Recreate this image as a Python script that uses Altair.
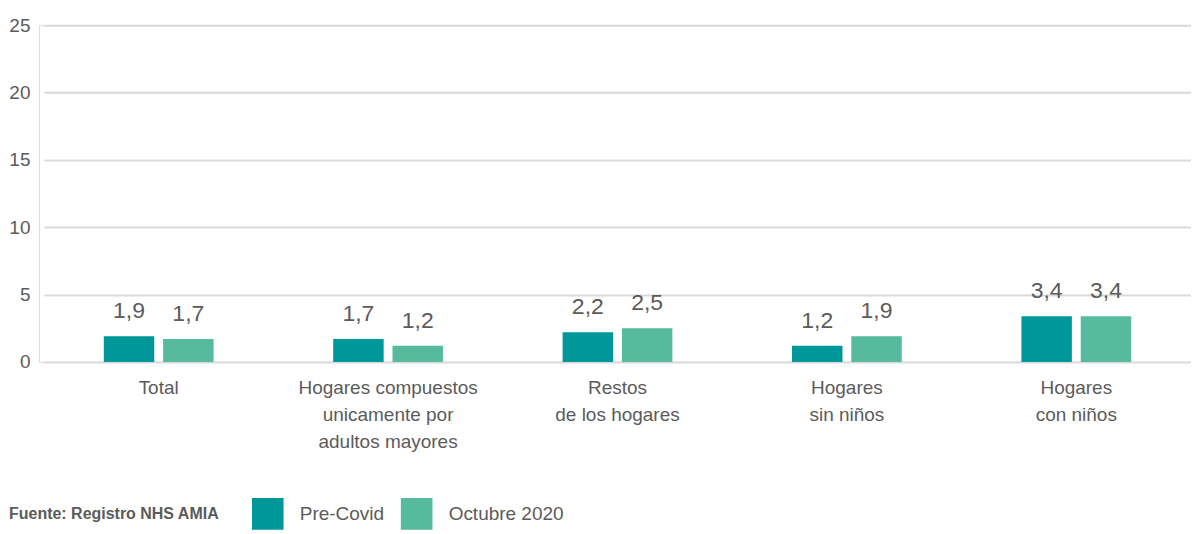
import altair as alt
import pandas as pd

categories = [
    "Total",
    "Hogares compuestos\nunicamente por\nadultos mayores",
    "Restos\nde los hogares",
    "Hogares\nsin niños",
    "Hogares\ncon niños",
]
series = ["Pre-Covid", "Octubre 2020"]
pre_covid = [1.9, 1.7, 2.2, 1.2, 3.4]
octubre_2020 = [1.7, 1.2, 2.5, 1.9, 3.4]
y_ticks = [0, 5, 10, 15, 20, 25]
colors = ["#00979a", "#55bb9c"]
source_note = "Fuente: Registro NHS AMIA"

rows = []
for c, a, b in zip(categories, pre_covid, octubre_2020):
    rows.append({"cat": c, "serie": series[0], "v": a})
    rows.append({"cat": c, "serie": series[1], "v": b})
df = pd.DataFrame(rows)

FONT = "Liberation Sans, Arial, sans-serif"
GREY = "#5b5b5b"

x = alt.X(
    "cat:N",
    sort=categories,
    scale=alt.Scale(range=[5, 1153], paddingInner=0, paddingOuter=0),
    axis=alt.Axis(
        title=None,
        labelExpr="split(datum.value, '\\n')",
        labelAngle=0,
        labelFont=FONT,
        labelFontSize=19,
        labelColor=GREY,
        labelLineHeight=27,
        labelPadding=17,
        labelBaseline="top",
        labelLimit=400,
        ticks=False,
        domain=False,
        grid=False,
    ),
)
xo = alt.XOffset(
    "serie:N",
    sort=series,
    scale=alt.Scale(paddingInner=0.132, paddingOuter=1),
)
y = alt.Y(
    "v:Q",
    scale=alt.Scale(domain=[0, 25]),
    axis=alt.Axis(
        title=None,
        values=y_ticks,
        labelFont=FONT,
        labelFontSize=19,
        labelColor=GREY,
        labelPadding=9,
        ticks=False,
        domain=False,
        gridColor="#d9d9d9",
        gridWidth=2,
    ),
)
color = alt.Color(
    "serie:N",
    sort=series,
    scale=alt.Scale(domain=series, range=colors),
    legend=alt.Legend(
        title=source_note,
        orient="none",
        legendX=-30,
        legendY=473,
        direction="horizontal",
        titleOrient="left",
        titleFont=FONT,
        titleFontSize=16,
        titleFontWeight="bold",
        titleColor=GREY,
        titlePadding=32,
        titleAnchor="middle",
        titleBaseline="middle",
        titleLimit=400,
        labelFont=FONT,
        labelFontSize=19,
        labelColor=GREY,
        labelOffset=16,
        labelLimit=300,
        symbolType="square",
        symbolSize=1000,
        symbolStrokeWidth=0,
        symbolOpacity=1,
        columnPadding=16,
    ),
)

base = alt.Chart(df)
bars = base.mark_bar(width=50.5).encode(x=x, xOffset=xo, y=y, color=color)
labels = base.transform_calculate(
    lab="replace(format(datum.v, '.1f'), '.', ',')"
).mark_text(
    dy=-18, baseline="alphabetic", font=FONT, fontSize=23, color=GREY
).encode(x=x, xOffset=xo, y=y, text="lab:N")

chart = (
    alt.layer(bars, labels)
    .properties(width=1153, height=337, padding={"left": 0, "top": 8, "right": 0, "bottom": 0})
    .configure_view(strokeWidth=0, stroke="transparent", strokeOpacity=0)
    .configure_axis(domain=False, domainColor="transparent", ticks=False, tickColor="transparent")
    .configure_axisX(grid=False, gridColor="transparent")
    .configure_axisY(domain=False, domainColor="transparent")
    .configure(background="white")
)
chart.save("out.html", embed_options={"renderer": "svg", "actions": False})
